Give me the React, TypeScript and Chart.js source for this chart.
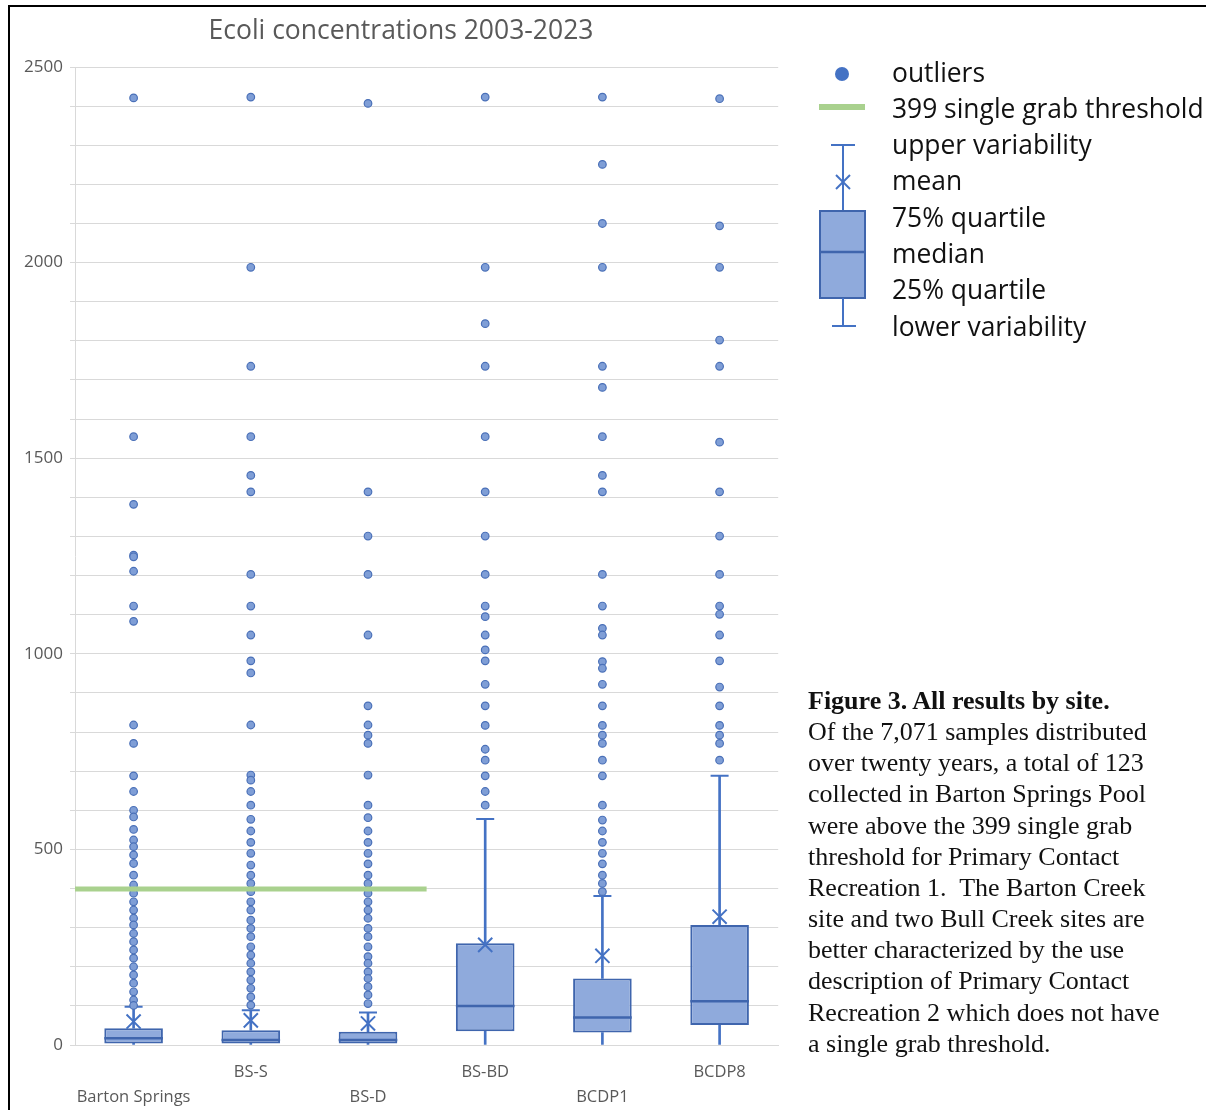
import { useEffect, useRef } from 'react';
import { Chart, registerables } from 'chart.js';

Chart.register(...registerables);

// ---- data ----
const sites = ['Barton Springs', 'BS-S', 'BS-D', 'BS-BD', 'BCDP1', 'BCDP8'];
const lowerVariability = [0, 0, 0, 0, 0, 0];
const quartile25 = [4, 4, 4, 35, 32, 51];
const median = [17, 13, 13, 100, 70, 112];
const quartile75 = [43, 38, 34, 260, 170, 307];
const mean = [60, 63, 55, 256, 228, 328];
const upperVariability = [98, 89, 83, 578, 381, 688];

const bartonSpringsOutliers = [2421, 1555, 1382, 1252, 1248, 1211, 1122, 1083, 818, 771, 688, 648, 600, 583, 551, 524, 507, 486, 464, 434, 409, 388, 366, 345, 324, 307, 285, 264, 243, 222, 200, 179, 158, 136, 115, 101];
const bsSOutliers = [2423, 1988, 1735, 1555, 1456, 1414, 1203, 1122, 1048, 982, 951, 818, 690, 677, 648, 613, 577, 547, 518, 490, 460, 434, 413, 392, 366, 345, 319, 298, 277, 251, 230, 209, 187, 166, 145, 123, 102];
const bsDOutliers = [2407, 1414, 1301, 1203, 1048, 867, 818, 792, 771, 690, 613, 581, 547, 518, 490, 463, 434, 413, 388, 366, 345, 324, 298, 277, 251, 226, 209, 187, 170, 149, 128, 106];
const bsBDOutliers = [2423, 1988, 1844, 1735, 1555, 1414, 1301, 1203, 1122, 1095, 1048, 1010, 982, 922, 867, 817, 756, 728, 688, 648, 613];
const bcdp1Outliers = [2423, 2251, 2100, 1988, 1735, 1681, 1555, 1456, 1414, 1203, 1122, 1065, 1048, 980, 963, 922, 867, 817, 792, 771, 728, 688, 613, 575, 547, 518, 490, 463, 434, 413, 392];
const bcdp8Outliers = [2419, 2094, 1988, 1802, 1735, 1541, 1414, 1301, 1203, 1122, 1101, 1048, 982, 915, 867, 817, 792, 771, 728];
const outliersBySite = [bartonSpringsOutliers, bsSOutliers, bsDOutliers, bsBDOutliers, bcdp1Outliers, bcdp8Outliers];

const thresholdValue = 399;
const thresholdSiteCount = 3; // spans the first three sites

const yMin = 0;
const yMax = 2500;
const yStep = 100;
const yLabelStep = 500;

const titleText = 'Ecoli concentrations 2003-2023';
const legendLabels = ['outliers', '399 single grab threshold', 'upper variability', 'mean', '75% quartile', 'median', '25% quartile', 'lower variability'];
const captionTitle = 'Figure 3. All results by site.';
const captionLines = [
  'Of the 7,071 samples distributed',
  'over twenty years, a total of 123',
  'collected in Barton Springs Pool',
  'were above the 399 single grab',
  'threshold for Primary Contact',
  'Recreation 1.\u00a0 The Barton Creek',
  'site and two Bull Creek sites are',
  'better characterized by the use',
  'description of Primary Contact',
  'Recreation 2 which does not have',
  'a single grab threshold.',
];

const BOX_FILL = '#8faadc';
const BOX_LINE = '#3f65ad';
const WHISKER = '#4472c4';
const DOT_FILL = '#7f9ed6';
const DOT_LINE = '#4a70b8';
const GREEN = '#a9d18e';
const GRID = '#d9d9d9';
const AXIS_TEXT = '#595959';

export default function App() {
  const canvasRef = useRef<HTMLCanvasElement | null>(null);

  useEffect(() => {
    document.body.style.overflow = 'hidden';
    const canvas = canvasRef.current;
    if (!canvas) return;

    const outlierPoints: { x: string; y: number }[] = [];
    outliersBySite.forEach((arr, i) => arr.forEach((v) => outlierPoints.push({ x: sites[i], y: v })));

    const chart = new Chart(canvas, {
      type: 'bar',
      data: {
        labels: sites,
        datasets: [
          {
            type: 'line',
            label: 'threshold',
            xAxisID: 'xl',
            data: [
              { x: -0.5, y: thresholdValue },
              { x: thresholdSiteCount - 0.5, y: thresholdValue },
            ],
            borderColor: GREEN,
            borderWidth: 5,
            pointRadius: 0,
            borderCapStyle: 'butt',
            order: 1,
          } as any,
          {
            type: 'line',
            label: 'outliers',
            data: outlierPoints,
            showLine: false,
            pointStyle: 'circle',
            pointRadius: 3.8,
            pointBackgroundColor: DOT_FILL,
            pointBorderColor: DOT_LINE,
            pointBorderWidth: 1.2,
            order: 2,
          } as any,
          {
            type: 'line',
            label: 'mean',
            data: mean,
            showLine: false,
            pointStyle: 'crossRot',
            pointRadius: 10,
            pointBorderColor: WHISKER,
            pointBorderWidth: 2,
            order: 3,
          } as any,
          {
            type: 'line',
            label: 'median',
            data: median,
            showLine: false,
            pointStyle: 'line',
            pointRadius: 29.3,
            pointBorderColor: BOX_LINE,
            pointBorderWidth: 2.5,
            order: 4,
          } as any,
          {
            type: 'line',
            label: 'cap',
            data: upperVariability,
            showLine: false,
            pointStyle: 'line',
            pointRadius: 9,
            pointBorderColor: WHISKER,
            pointBorderWidth: 2,
            order: 4,
          } as any,
          {
            type: 'bar',
            label: 'box',
            data: sites.map((_, i) => [quartile25[i], quartile75[i]]),
            backgroundColor: BOX_FILL,
            borderColor: BOX_LINE,
            borderWidth: 2,
            borderSkipped: false,
            barPercentage: 0.5,
            categoryPercentage: 1,
            grouped: false,
            order: 5,
          } as any,
          {
            type: 'bar',
            label: 'upper whisker',
            data: sites.map((_, i) => [quartile75[i], upperVariability[i]]),
            backgroundColor: WHISKER,
            barThickness: 2,
            grouped: false,
            order: 6,
          } as any,
          {
            type: 'bar',
            label: 'lower whisker',
            data: sites.map((_, i) => [lowerVariability[i], quartile25[i]]),
            backgroundColor: WHISKER,
            barThickness: 2,
            grouped: false,
            order: 6,
          } as any,
        ],
      },
      options: {
        animation: false,
        responsive: false,
        events: [],
        layout: { padding: { top: 61, right: 12, bottom: 0, left: 0 } },
        plugins: {
          legend: { display: false },
          tooltip: { enabled: false },
          title: { display: false },
        },
        scales: {
          x: {
            type: 'category',
            offset: true,
            grid: { display: false, drawTicks: false },
            border: { display: true, color: GRID },
            ticks: {
              autoSkip: false,
              maxRotation: 0,
              minRotation: 0,
              padding: 14.5,
              color: AXIS_TEXT,
              font: { family: 'Open Sans', size: 16.5, lineHeight: '25px' } as any,
              callback: (_v: any, i: number) => (i % 2 === 0 ? ['', sites[i]] : sites[i]),
            },
            afterFit: (s: any) => {
              s.height = 65;
            },
          },
          xl: {
            type: 'linear',
            axis: 'x',
            display: false,
            min: -0.5,
            max: sites.length - 0.5,
            offset: false,
          } as any,
          y: {
            type: 'linear',
            min: yMin,
            max: yMax,
            grid: { color: GRID, lineWidth: 1, tickLength: 5, drawTicks: true },
            border: { display: true, color: GRID },
            ticks: {
              stepSize: yStep,
              padding: 7,
              color: AXIS_TEXT,
              font: { family: 'Open Sans', size: 17 },
              callback: (v: any) => (Number(v) % yLabelStep === 0 ? String(v) : ''),
            },
            afterFit: (s: any) => {
              s.width = 65;
            },
          },
        },
      } as any,
    });
    return () => chart.destroy();
  }, []);

  const legendTextStyle: React.CSSProperties = {
    position: 'absolute',
    left: 892,
    top: 53.5,
    fontFamily: 'Open Sans',
    fontSize: 26.4,
    lineHeight: '36.3px',
    color: '#111',
    whiteSpace: 'nowrap',
  };

  return (
    <div>
      <div
        style={{
          position: 'fixed',
          left: 8,
          top: 5,
          right: -20,
          bottom: -20,
          borderTop: '2px solid #000',
          borderLeft: '2px solid #000',
          pointerEvents: 'none',
        }}
      />
      <div
        style={{
          position: 'absolute',
          left: 10,
          top: 13,
          width: 782,
          textAlign: 'center',
          fontFamily: 'Open Sans',
          fontSize: 26.5,
          lineHeight: '32px',
          color: AXIS_TEXT,
          whiteSpace: 'nowrap',
        }}
      >
        {titleText}
      </div>
      <div style={{ position: 'absolute', left: 10, top: 6, width: 800, height: 1104 }}>
        <canvas ref={canvasRef} width={800} height={1104} style={{ width: 800, height: 1104, display: 'block' }} />
      </div>
      <svg style={{ position: 'absolute', left: 810, top: 50 }} width={70} height={290}>
        <circle cx={32} cy={24} r={7} fill={WHISKER} />
        <line x1={9} x2={55} y1={57} y2={57} stroke={GREEN} strokeWidth={6} />
        <line x1={21} x2={45} y1={95} y2={95} stroke={WHISKER} strokeWidth={2} />
        <line x1={33} x2={33} y1={95} y2={161} stroke={WHISKER} strokeWidth={2} />
        <line x1={26} x2={40} y1={125} y2={139} stroke={WHISKER} strokeWidth={2} />
        <line x1={26} x2={40} y1={139} y2={125} stroke={WHISKER} strokeWidth={2} />
        <rect x={10} y={161} width={45} height={87} fill={BOX_FILL} stroke={BOX_LINE} strokeWidth={2} />
        <line x1={10} x2={55} y1={202} y2={202} stroke={BOX_LINE} strokeWidth={2.5} />
        <line x1={33} x2={33} y1={248} y2={276} stroke={WHISKER} strokeWidth={2} />
        <line x1={22} x2={46} y1={276} y2={276} stroke={WHISKER} strokeWidth={2} />
      </svg>
      <div style={legendTextStyle}>
        {legendLabels.map((t) => (
          <div key={t}>{t}</div>
        ))}
      </div>
      <div
        style={{
          position: 'absolute',
          left: 808,
          top: 685,
          fontFamily: '"Liberation Serif", "Times New Roman", serif',
          fontSize: 26,
          lineHeight: '31.15px',
          color: '#111',
          whiteSpace: 'nowrap',
        }}
      >
        <div style={{ fontWeight: 'bold' }}>{captionTitle}</div>
        {captionLines.map((t) => (
          <div key={t}>{t}</div>
        ))}
      </div>
    </div>
  );
}
